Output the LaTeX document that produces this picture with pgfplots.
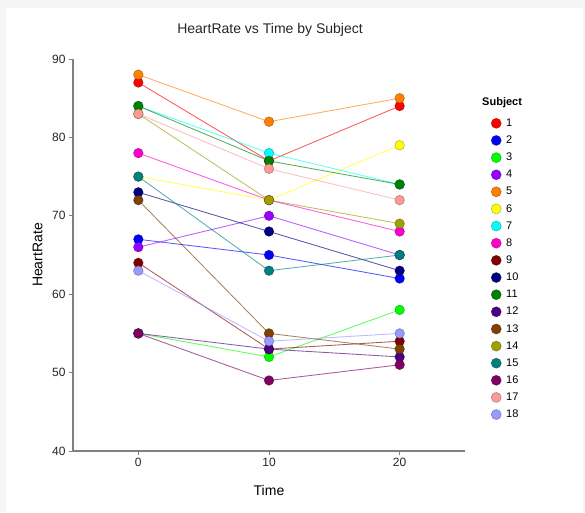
\documentclass[border=0pt]{standalone}
\usepackage{fontspec}
\setmainfont{Liberation Sans}
\usepackage{pgfplots}
\pgfplotsset{compat=1.18}

\definecolor{s1}{HTML}{FF0000}
\definecolor{s2}{HTML}{0000FF}
\definecolor{s3}{HTML}{00FF00}
\definecolor{s4}{HTML}{9900FF}
\definecolor{s5}{HTML}{FF8000}
\definecolor{s6}{HTML}{FFFF00}
\definecolor{s7}{HTML}{00FFFF}
\definecolor{s8}{HTML}{FF00CC}
\definecolor{s9}{HTML}{800000}
\definecolor{s10}{HTML}{000080}
\definecolor{s11}{HTML}{008000}
\definecolor{s12}{HTML}{4B0082}
\definecolor{s13}{HTML}{804000}
\definecolor{s14}{HTML}{A0A000}
\definecolor{s15}{HTML}{008080}
\definecolor{s16}{HTML}{800066}
\definecolor{s17}{HTML}{FF9999}
\definecolor{s18}{HTML}{9999FF}
\definecolor{axgray}{HTML}{808080}

% one subject: line in a lighter tone, circle marks with a dark rim
\pgfplotsset{
  subj/.style={draw=#1, draw opacity=0.65, line width=0.85pt,
    mark=*, mark size=4.8pt,
    mark options={fill=#1, draw=#1!55!black, draw opacity=0.6, line width=0.6pt, fill opacity=1}},
}

\begin{document}
\begin{tikzpicture}
\fill[black!4] (0pt,0pt) rectangle (585pt,-512pt);
\fill[white] (6pt,-8pt) rectangle (583pt,-512pt);
\path[use as bounding box] (0pt,0pt) rectangle (585pt,-512pt);
\node[font=\fontsize{14}{16}\selectfont, text=black!85] at (270pt,-30pt) {HeartRate vs Time by Subject};
\begin{axis}[
    at={(73pt,-451pt)}, anchor=south west,
    scale only axis, width=392pt, height=392pt,
    xmin=-5, xmax=25, ymin=40, ymax=90,
    axis lines=left,
    axis line style={axgray, line width=1.4pt, -},
    xtick={0,10,20}, ytick={40,50,60,70,80,90},
    tick style={axgray, line width=0.9pt},
    tick align=outside, major tick length=4pt,
    tick label style={font=\fontsize{12}{14}\selectfont, text=black!85},
    /pgf/number format/assume math mode=true,
    xlabel={Time}, ylabel={HeartRate},
    label style={font=\fontsize{14}{16}\selectfont, text=black},
    xlabel style={at={(axis description cs:0.5,0)}, anchor=north, yshift=-31pt},
    ylabel style={at={(axis description cs:0,0.5)}, anchor=south, yshift=27pt},
    clip=false,
    legend style={at={(1.057,0.913)}, anchor=north west, draw=none, fill=none,
      font=\fontsize{11}{13}\selectfont, row sep=4.0pt, cells={anchor=west},
      nodes={inner xsep=5pt}},
    legend image code/.code={\draw[mark repeat=1, mark phase=1, #1, mark size=5pt, draw opacity=1] plot coordinates {(0.2cm,0cm)};},
]
\addlegendimage{empty legend}
\addlegendentry{\hspace{-24pt}\raisebox{4pt}{\textbf{Subject}}}
\addplot[subj=s1] coordinates {(0,87)(10,77)(20,84)};
\addlegendentry{1}
\addplot[subj=s2] coordinates {(0,67)(10,65)(20,62)};
\addlegendentry{2}
\addplot[subj=s3] coordinates {(0,55)(10,52)(20,58)};
\addlegendentry{3}
\addplot[subj=s4] coordinates {(0,66)(10,70)(20,65)};
\addlegendentry{4}
\addplot[subj=s5] coordinates {(0,88)(10,82)(20,85)};
\addlegendentry{5}
\addplot[subj=s6] coordinates {(0,75)(10,72)(20,79)};
\addlegendentry{6}
\addplot[subj=s7] coordinates {(0,84)(10,78)(20,74)};
\addlegendentry{7}
\addplot[subj=s8] coordinates {(0,78)(10,72)(20,68)};
\addlegendentry{8}
\addplot[subj=s9] coordinates {(0,64)(10,53)(20,54)};
\addlegendentry{9}
\addplot[subj=s10] coordinates {(0,73)(10,68)(20,63)};
\addlegendentry{10}
\addplot[subj=s11] coordinates {(0,84)(10,77)(20,74)};
\addlegendentry{11}
\addplot[subj=s12] coordinates {(0,55)(10,53)(20,52)};
\addlegendentry{12}
\addplot[subj=s13] coordinates {(0,72)(10,55)(20,53)};
\addlegendentry{13}
\addplot[subj=s14] coordinates {(0,83)(10,72)(20,69)};
\addlegendentry{14}
\addplot[subj=s15] coordinates {(0,75)(10,63)(20,65)};
\addlegendentry{15}
\addplot[subj=s16] coordinates {(0,55)(10,49)(20,51)};
\addlegendentry{16}
\addplot[subj=s17] coordinates {(0,83)(10,76)(20,72)};
\addlegendentry{17}
\addplot[subj=s18] coordinates {(0,63)(10,54)(20,55)};
\addlegendentry{18}
\end{axis}
\end{tikzpicture}
\end{document}
